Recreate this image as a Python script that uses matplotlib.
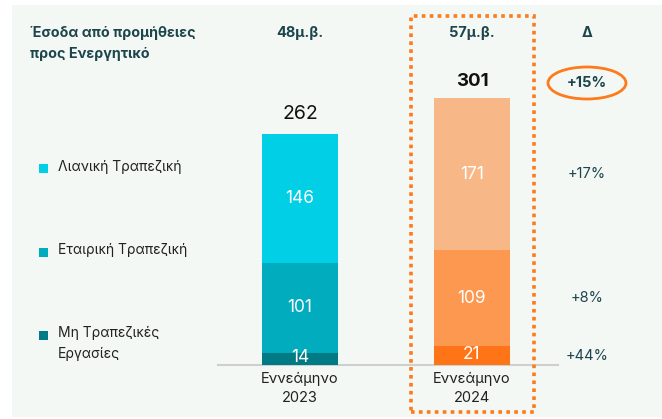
import matplotlib
matplotlib.use("Agg")
import matplotlib.pyplot as plt
from matplotlib.patches import Rectangle, Ellipse
from matplotlib.transforms import blended_transform_factory

plt.rcParams['font.family'] = ['Inter', 'DejaVu Sans']

# data
periods = ["Εννεάμηνο\n2023", "Εννεάμηνο\n2024"]
headers = ["48μ.β.", "57μ.β."]
segments = ["Λιανική Τραπεζική", "Εταιρική Τραπεζική", "Μη Τραπεζικές\nΕργασίες"]
non_banking = [14, 21]
corporate = [101, 109]
retail = [146, 171]
totals = [262, 301]
deltas = ["+17%", "+8%", "+44%"]   # retail, corporate, non-banking
total_delta = "+15%"
title = "Έσοδα από προμήθειες\nπρος Ενεργητικό"

# colours
col_2023 = ["#00cfe6", "#00acbe", "#007a84"]   # retail, corporate, non-banking
col_2024 = ["#f8b787", "#fc9850", "#ff7417"]
ORANGE = "#ff7a1a"
DARK = "#1d454c"
BG = "#f3f8f5"

W, H = 662, 419
fig = plt.figure(figsize=(W / 100, H / 100), dpi=100)
fig.patch.set_facecolor("white")


def fp(x, y):
    # pixel (from top-left) -> figure fraction
    return x / W, 1 - y / H


fig.patches.append(Rectangle(fp(12, 417), 1, 412 / H, transform=fig.transFigure,
                             facecolor=BG, edgecolor="none", zorder=-10))

ax = fig.add_axes([0, 0, 1, 1])
ax.set_zorder(1)
ax.patch.set_visible(False)
ax.set_xlim(-300 / 172, (W - 300) / 172)
ax.set_ylim(-54 / 0.886, 365 / 0.886)
ax.axis("off")

x = [0, 1]
width = 0.44
bottoms = [0, 0]
for vals, i in [(non_banking, 2), (corporate, 1), (retail, 0)]:
    for j in range(2):
        c = col_2023[i] if j == 0 else col_2024[i]
        ax.bar(x[j], vals[j], width, bottom=bottoms[j], color=c, zorder=2)
        ax.text(x[j], bottoms[j] + vals[j] / 2 + (1.5 if vals[j] < 30 else 0),
                str(vals[j]), ha="center", va="center", color="white",
                fontsize=12.5, zorder=3)
    bottoms = [bottoms[k] + vals[k] for k in range(2)]

# totals
ax.annotate(str(totals[0]), (x[0], bottoms[0]), xytext=(0, 8),
            textcoords="offset points", ha="center", va="bottom",
            fontsize=14, color="#111111")
ax.annotate(str(totals[1]), (x[1], bottoms[1]), xytext=(0, 6),
            textcoords="offset points", ha="center", va="bottom",
            fontsize=13.5, fontweight="bold", color="#111111")

# baseline
ax.axhline(0, xmin=218 / W, xmax=558 / W, color="#cfcfcf", lw=1.5, zorder=1)

# period labels
for j in range(2):
    ax.annotate(periods[j], (x[j], 0), xytext=(0, -5), textcoords="offset points",
                ha="center", va="top", fontsize=10.5, color="#222222", linespacing=1.45)

# header row
tr = blended_transform_factory(ax.transData, fig.transFigure)
for j in range(2):
    ax.text(x[j], 1 - 33 / H, headers[j], transform=tr, ha="center", va="center",
            fontsize=10.5, fontweight="bold", color=DARK)
fig.text(*fp(587, 33), "Δ", ha="center", va="center", fontsize=10.5,
         fontweight="bold", color=DARK)
fig.text(*fp(30, 26), title, ha="left", va="top", fontsize=10.3,
         fontweight="bold", color=DARK, linespacing=1.65)

# delta column
fig.text(*fp(587, 83), total_delta, ha="center", va="center", fontsize=10.5,
         fontweight="bold", color=DARK)
fig.patches.append(Ellipse(fp(587, 83), 78 / W, 32 / H, transform=fig.transFigure,
                           facecolor="none", edgecolor=ORANGE, lw=2, zorder=5))
xd = (587 - 300) / 172
seg_vals = [retail, corporate, non_banking]
base = [non_banking[1] + corporate[1], non_banking[1], 0]
for k in range(3):
    ax.text(xd, base[k] + seg_vals[k][1] / 2, deltas[k], ha="center", va="center",
            fontsize=10.5, color=DARK)

# legend
sq_y = [168.5, 252, 335]
for k in range(3):
    fig.patches.append(Rectangle(fp(39, sq_y[k] + 4.5), 9 / W, 9 / H,
                                 transform=fig.transFigure, facecolor=col_2023[k],
                                 edgecolor="none", zorder=5))
    fig.text(*fp(58, sq_y[k] - 9), segments[k], ha="left", va="top", fontsize=10,
             color="#222222", linespacing=1.6)

# dotted highlight box
fig.patches.append(Rectangle(fp(411, 412), 123 / W, 396 / H, transform=fig.transFigure,
                             facecolor="none", edgecolor=ORANGE, lw=2.6,
                             linestyle=(0, (1, 1.2)), zorder=5))

fig.savefig("out.png", dpi=100)
